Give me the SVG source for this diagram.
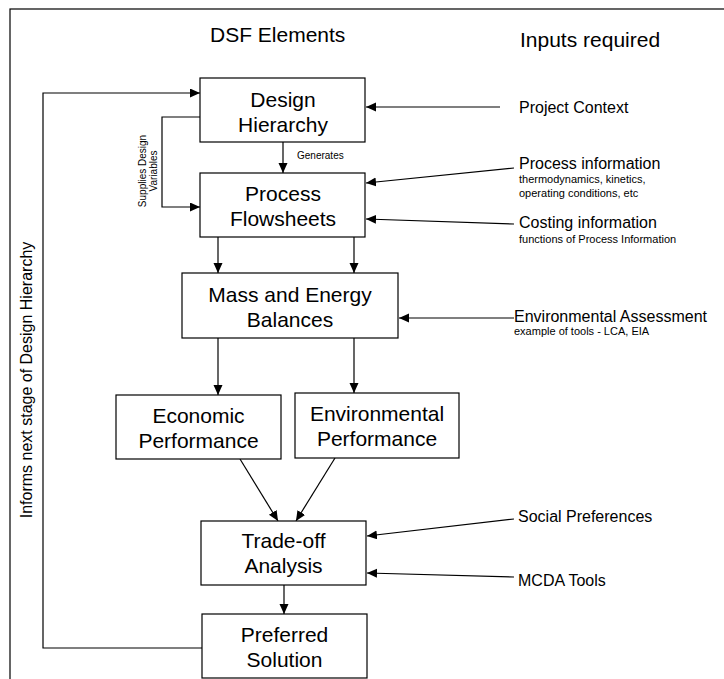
<svg xmlns="http://www.w3.org/2000/svg" width="724" height="679" viewBox="0 0 724 679">
<defs>
<marker id="ah" markerUnits="userSpaceOnUse" markerWidth="11" markerHeight="10" refX="10" refY="4.5" orient="auto">
<path d="M0,0 L10,4.5 L0,9 z" fill="#000"/>
</marker>
<style>
text{font-family:"Liberation Sans",Arial,sans-serif;fill:#000}
.box{fill:#fff;stroke:#000;stroke-width:1.2}
.lbl{font-size:21px;text-anchor:middle}
.head{font-size:21px}
.inp{font-size:16px}
.sm{font-size:11px}
.tiny{font-size:10px}
.c{fill:none;stroke:#000;stroke-width:1.2}
.a{marker-end:url(#ah)}
</style>
</defs>
<rect x="0" y="0" width="724" height="679" fill="#fff"/>
<rect x="10" y="9" width="720" height="690" fill="none" stroke="#000" stroke-width="1.2"/>
<text class="head" x="210" y="42">DSF Elements</text>
<text class="head" x="520" y="47">Inputs required</text>

<g id="connectors">
<polyline class="c a" points="202,648 43,648 43,93 200,93"/>
<polyline class="c a" points="200,117 162,117 162,207 200,207"/>
<line class="c a" x1="283" y1="142" x2="283" y2="173"/>
<line class="c a" x1="218" y1="237" x2="218" y2="273"/>
<line class="c a" x1="354" y1="237" x2="354" y2="273"/>
<line class="c a" x1="218" y1="338" x2="218" y2="395"/>
<line class="c a" x1="354" y1="338" x2="354" y2="393"/>
<line class="c a" x1="240" y1="459" x2="278" y2="521"/>
<line class="c a" x1="335" y1="458" x2="296" y2="521"/>
<line class="c a" x1="284" y1="585" x2="284" y2="614"/>
<line class="c a" x1="500" y1="107" x2="366" y2="107"/>
<line class="c a" x1="514" y1="168" x2="366" y2="183"/>
<line class="c a" x1="514" y1="224" x2="366" y2="219"/>
<line class="c a" x1="514" y1="318" x2="399" y2="318"/>
<line class="c a" x1="514" y1="519" x2="367" y2="536"/>
<line class="c a" x1="514" y1="577" x2="367" y2="573"/>
<text class="tiny" x="297" y="159">Generates</text>
<text class="tiny" text-anchor="middle" transform="translate(146,171) rotate(-90)">Supplies Design</text>
<text class="tiny" text-anchor="middle" transform="translate(157,171) rotate(-90)">Variables</text>
<text class="inp" text-anchor="middle" transform="translate(32,380) rotate(-90)">Informs next stage of Design Hierarchy</text>
</g>

<g id="design-hierarchy">
<rect class="box" x="200" y="78" width="165" height="64"/>
<text class="lbl" x="283" y="107">Design</text>
<text class="lbl" x="283" y="132">Hierarchy</text>
</g>
<g id="process-flowsheets">
<rect class="box" x="200" y="173" width="165" height="64"/>
<text class="lbl" x="283" y="201">Process</text>
<text class="lbl" x="283" y="226">Flowsheets</text>
</g>
<g id="mass-energy">
<rect class="box" x="182" y="273" width="216" height="65"/>
<text class="lbl" x="290" y="302">Mass and Energy</text>
<text class="lbl" x="290" y="327">Balances</text>
</g>
<g id="economic">
<rect class="box" x="116" y="395" width="165" height="64"/>
<text class="lbl" x="198.5" y="423">Economic</text>
<text class="lbl" x="198.5" y="448">Performance</text>
</g>
<g id="environmental">
<rect class="box" x="295" y="393" width="164" height="65"/>
<text class="lbl" x="377" y="421">Environmental</text>
<text class="lbl" x="377" y="446">Performance</text>
</g>
<g id="trade-off">
<rect class="box" x="201" y="521" width="165" height="64"/>
<text class="lbl" x="283.5" y="548">Trade-off</text>
<text class="lbl" x="283.5" y="573">Analysis</text>
</g>
<g id="preferred">
<rect class="box" x="202" y="614" width="165" height="64"/>
<text class="lbl" x="284.5" y="642">Preferred</text>
<text class="lbl" x="284.5" y="667">Solution</text>
</g>

<g id="inputs">
<text class="inp" x="519" y="113">Project Context</text>
<text class="inp" x="519" y="169">Process information</text>
<text class="sm" x="519" y="183">thermodynamics, kinetics,</text>
<text class="sm" x="519" y="197">operating conditions, etc</text>
<text class="inp" x="519" y="228">Costing information</text>
<text class="sm" x="519" y="243">functions of Process Information</text>
<text class="inp" x="514" y="322">Environmental Assessment</text>
<text class="sm" x="514" y="335">example of tools - LCA, EIA</text>
<text class="inp" x="518" y="522">Social Preferences</text>
<text class="inp" x="518" y="586">MCDA Tools</text>
</g>
</svg>
